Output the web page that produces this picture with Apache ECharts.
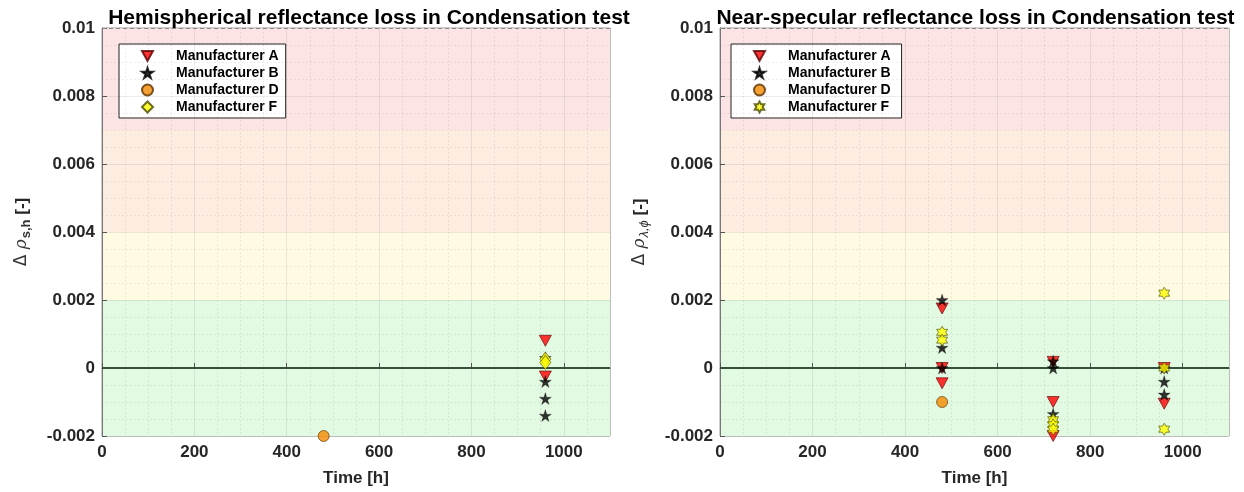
<!DOCTYPE html>
<html>
<head>
<meta charset="utf-8">
<script src="https://cdn.jsdelivr.net/npm/echarts@6/dist/echarts.min.js"></script>
<style>html,body{margin:0;padding:0;background:#fff;}#c{width:1244px;height:492px;}</style>
</head>
<body>
<div id="c"></div>
<script>
// ---------- data ----------
const titles = ['Hemispherical reflectance loss in Condensation test', 'Near-specular reflectance loss in Condensation test'];
const seriesNames = ['Manufacturer A', 'Manufacturer B', 'Manufacturer D', 'Manufacturer F'];
const xTicks = [0, 200, 400, 600, 800, 1000];
const yTicks = [-0.002, 0, 0.002, 0.004, 0.006, 0.008, 0.01];
const zoneBounds = [-0.002, 0.002, 0.004, 0.007, 0.01];

// Hemispherical (left)
const hemiA = [[960, 0.0008], [960, -0.00025]];
const hemiB = [[960, 0.0003], [960, -0.0004], [960, -0.0009], [960, -0.0014]];
const hemiD = [[480, -0.002]];
const hemiF = [[960, 0.00026], [960, 0.00016]];

// Near-specular (right)
const specA = [[480, 0.00175], [480, 0.0], [480, -0.00045], [720, 0.00018], [720, -0.001], [720, -0.002], [960, 0.0], [960, -0.00105]];
const specB = [[480, 0.002], [480, 0.0006], [480, 0.0], [720, 0.0002], [720, 0.0], [720, -0.00135], [960, 0.0], [960, -0.0004], [960, -0.00078]];
const specD = [[480, -0.001]];
const specF = [[480, 0.00105], [480, 0.00082], [720, -0.00152], [720, -0.00167], [720, -0.0018], [960, 0.0022], [960, 0.0], [960, -0.0018]];

// ---------- symbol shapes ----------
function starPath(n, rIn) {
  const pts = [];
  for (let k = 0; k < 2 * n; k++) {
    const r = k % 2 === 0 ? 50 : 50 * rIn;
    const a = -Math.PI / 2 + k * Math.PI / n;
    pts.push((50 + r * Math.cos(a)).toFixed(2) + ',' + (50 + r * Math.sin(a)).toFixed(2));
  }
  return 'path://M' + pts.join(' L') + ' Z';
}
const triDown = 'path://M0,0 L100,0 L50,90 Z';
const star5 = starPath(5, 0.382);
const hexagram = starPath(6, 0.577);

const grids = [
  { left: 102, top: 28, width: 508, height: 409 },
  { left: 720, top: 28, width: 509, height: 409 }
];

const fmtY = v => String(+v.toFixed(4));

const option = {
  backgroundColor: '#ffffff',
  animation: false,
  title: titles.map((t, i) => ({
    text: t,
    left: grids[i].left + grids[i].width / 2 + (i === 0 ? 8 : -4),
    textAlign: 'center',
    top: 3,
    textStyle: { fontFamily: 'Liberation Sans, Arial, sans-serif', fontWeight: 'bold', fontSize: 21, color: '#000' }
  })),
  grid: grids.map(g => Object.assign({ show: true, borderColor: '#9a9a9a', borderWidth: 1, backgroundColor: 'transparent' }, g)),
  legend: [0, 1].map(i => ({
    orient: 'vertical',
    left: [119, 731][i],
    top: 44,
    padding: [5, 7, 4, 22],
    itemGap: 3,
    itemWidth: 11,
    itemHeight: 11,
    backgroundColor: '#ffffff',
    borderColor: '#222',
    borderWidth: 1,
    borderRadius: 0,
    data: seriesNames.map(n => ({ name: n + (i === 1 ? ' ' : '') })),
    textStyle: { fontFamily: 'Liberation Sans, Arial, sans-serif', fontWeight: 'bold', fontSize: 14, color: '#000', lineHeight: 14, padding: [0, 0, 0, 18] }
  })),
  xAxis: [0, 1].map(i => ({
    gridIndex: i,
    type: 'value',
    min: 0, max: 1100, interval: 200,
    z: 5,
    name: 'Time [h]',
    nameLocation: 'middle',
    nameGap: 34,
    nameTextStyle: { fontFamily: 'Liberation Sans, Arial, sans-serif', fontWeight: 'bold', fontSize: 17, color: '#262626' },
    axisLine: { show: true, lineStyle: { color: '#777', width: 1 } },
    axisTick: { show: true, inside: true, length: 5, lineStyle: { color: '#555' } },
    axisLabel: { show: true, showMaxLabel: false, margin: 8, fontFamily: 'Liberation Sans, Arial, sans-serif', fontWeight: 'bold', fontSize: 17, color: '#262626',
      formatter: v => (xTicks.indexOf(v) >= 0 ? String(v) : '') },
    splitLine: { show: true, lineStyle: { color: 'rgba(0,0,0,0.075)', width: 1 } },
    minorTick: { show: false, splitNumber: 4 },
    minorSplitLine: { show: true, lineStyle: { color: 'rgba(0,0,0,0.065)', width: 1, type: [2, 2] } }
  })),
  yAxis: [0, 1].map(i => ({
    gridIndex: i,
    type: 'value',
    min: yTicks[0], max: yTicks[yTicks.length - 1], interval: 0.002,
    z: 5,
    name: i === 0 ? '{d|Δ }{r|ρ}{s|s,h}{b| [-]}' : '{d|Δ }{r|ρ}{s|λ,ϕ}{b| [-]}',
    nameLocation: 'middle',
    nameGap: 69,
    nameRotate: 90,
    nameTextStyle: {
      color: '#262626',
      rich: {
        d: { fontFamily: 'DejaVu Sans, sans-serif', fontSize: 17, color: '#333', lineHeight: 22, verticalAlign: 'middle' },
        r: { fontFamily: 'DejaVu Serif, serif', fontStyle: 'italic', fontSize: 17, color: '#333', lineHeight: 22, verticalAlign: 'middle' },
        s: { fontFamily: 'Liberation Sans, Arial, sans-serif', fontWeight: i === 0 ? 'bold' : 'normal', fontStyle: i === 0 ? 'normal' : 'italic', fontSize: 13, color: '#333', lineHeight: 22, verticalAlign: 'bottom', padding: [8, 0, 0, 1] },
        b: { fontFamily: 'Liberation Sans, Arial, sans-serif', fontWeight: 'bold', fontSize: 17, color: '#262626', lineHeight: 22, verticalAlign: 'middle' }
      }
    },
    axisLine: { show: true, lineStyle: { color: '#777', width: 1 } },
    axisTick: { show: true, inside: true, length: 5, lineStyle: { color: '#555' } },
    axisLabel: { show: true, margin: 7, fontFamily: 'Liberation Sans, Arial, sans-serif', fontWeight: 'bold', fontSize: 17, color: '#262626', formatter: fmtY },
    splitLine: { show: true, lineStyle: { color: 'rgba(0,0,0,0.075)', width: 1 } },
    minorTick: { show: false, splitNumber: 4 },
    minorSplitLine: { show: true, lineStyle: { color: 'rgba(0,0,0,0.065)', width: 1, type: [2, 2] } }
  })),
  series: []
};

const zoneColors = ['#e2f9e2', '#fefbe2', '#fdece0', '#fde4e4'];

[0, 1].forEach(i => {
  option.series.push({
    type: 'line', xAxisIndex: i, yAxisIndex: i, data: [], silent: true, z: 1,
    markArea: {
      silent: true, z: 1,
      data: zoneColors.map((c, k) => [
        { yAxis: zoneBounds[k], xAxis: 0, itemStyle: { color: c } },
        { yAxis: zoneBounds[k + 1], xAxis: 1100 }
      ])
    }
  });
  option.series.push({
    type: 'line', xAxisIndex: i, yAxisIndex: i, data: [], silent: true, z: 6,
    markLine: {
      silent: true, symbol: 'none', z: 6, label: { show: false },
      data: [
        { yAxis: zoneBounds[1], lineStyle: { color: '#8a8a8a', width: 1, type: [4, 3] } },
        { yAxis: zoneBounds[2], lineStyle: { color: '#8a8a8a', width: 1, type: [4, 3] } },
        { yAxis: zoneBounds[3], lineStyle: { color: '#8a8a8a', width: 1, type: [4, 3] } },
        { yAxis: 0, lineStyle: { color: '#35503a', width: 2, type: 'solid' } }
      ]
    }
  });
});

const sets = [[hemiA, hemiB, hemiD, hemiF], [specA, specB, specD, specF]];
const styles = [
  { symbol: triDown, symbolSize: [12, 11], itemStyle: { color: '#ff0000', borderColor: '#5a0000', borderWidth: 0.8 } },
  { symbol: star5, symbolSize: [12, 12], itemStyle: { color: '#000000', borderColor: '#000', borderWidth: 0.3 } },
  { symbol: 'circle', symbolSize: 11, itemStyle: { color: '#f28a00', borderColor: '#5a3000', borderWidth: 0.8 } },
  null
];
[0, 1].forEach(i => {
  sets[i].forEach((d, k) => {
    let st = styles[k];
    if (k === 3) {
      st = i === 0
        ? { symbol: 'diamond', symbolSize: [11, 14], itemStyle: { color: '#ffff00', borderColor: '#4a4a00', borderWidth: 0.8 } }
        : { symbol: hexagram, symbolSize: [11, 12], itemStyle: { color: '#ffff00', borderColor: '#4a4a00', borderWidth: 0.8 } };
    }
    option.series.push(Object.assign({
      type: 'scatter', name: seriesNames[k] + (i === 1 ? ' ' : ''), xAxisIndex: i, yAxisIndex: i, z: 10,
      data: d
    }, st));
  });
});

const chart = echarts.init(document.getElementById('c'), null, { renderer: 'canvas' });
chart.setOption(option);
</script>
</body>
</html>
